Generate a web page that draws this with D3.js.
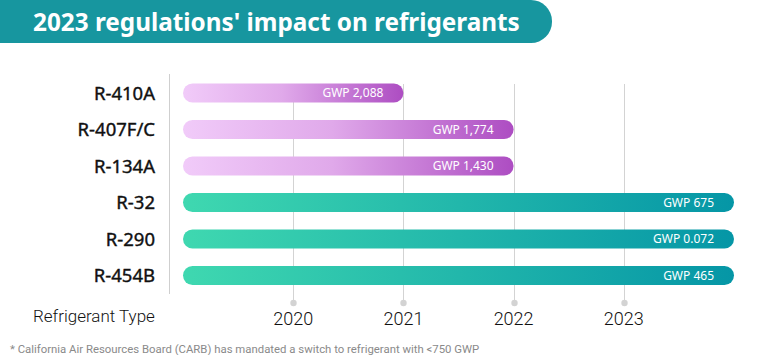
<!DOCTYPE html>
<html><head><meta charset="utf-8">
<script src="https://cdn.jsdelivr.net/npm/d3@7"></script>
<style>
html,body{margin:0;padding:0;background:#fff;}
svg{display:block;}
</style></head>
<body>
<svg id="chart" width="768" height="355"></svg>
<script>
const title = "2023 regulations' impact on refrigerants";
const categories = ["R-410A","R-407F/C","R-134A","R-32","R-290","R-454B"];
const gwpLabels = ["GWP 2,088","GWP 1,774","GWP 1,430","GWP 675","GWP 0.072","GWP 465"];
const startYears = [2019,2019,2019,2019,2019,2019];
const endYears = [2021,2022,2022,2024,2024,2024];
const groups = ["high","high","high","low","low","low"];
const tickYears = [2020,2021,2022,2023];
const axisTitle = "Refrigerant Type";
const footnote = "* California Air Resources Board (CARB) has mandated a switch to refrigerant with <750 GWP";

const svg = d3.select("#chart");
const x = d3.scaleLinear().domain([2019,2024]).range([183,734]);
const y = d3.scalePoint().domain(categories).range([93,275.5]);
const barH = 19;

const defs = svg.append("defs");
const gHigh = defs.append("linearGradient").attr("id","gHigh").attr("x1","0").attr("x2","1").attr("y1","0").attr("y2","0");
gHigh.append("stop").attr("offset","0").attr("stop-color","#f1cbf9");
gHigh.append("stop").attr("offset","0.45").attr("stop-color","#e0a9ea");
gHigh.append("stop").attr("offset","1").attr("stop-color","#ad4dc2");
const gLow = defs.append("linearGradient").attr("id","gLow").attr("x1","0").attr("x2","1").attr("y1","0").attr("y2","0");
gLow.append("stop").attr("offset","0").attr("stop-color","#3fd8b0");
gLow.append("stop").attr("offset","1").attr("stop-color","#0596a6");

function fit(sel, w){
  const n = sel.node();
  let fs = parseFloat(sel.attr("font-size"));
  const cur = n.getComputedTextLength();
  if(cur>0){ sel.attr("font-size", fs*w/cur); }
}

// title banner
const bw = 552, bh = 43, br = 21;
svg.append("path")
  .attr("d",`M0,0 H${bw-br} A${br},${br} 0 0 1 ${bw},${br} V${bh-br} A${br},${br} 0 0 1 ${bw-br},${bh} H0 Z`)
  .attr("fill","#17969f");
const t = svg.append("text").attr("x",33).attr("y",31)
  .attr("font-family","'Noto Sans', 'Open Sans', sans-serif").attr("font-weight",700)
  .attr("font-size",24).attr("fill","#fff").text(title);
fit(t, 487);

// axis line
svg.append("line").attr("x1",169.5).attr("x2",169.5).attr("y1",74).attr("y2",294)
  .attr("stroke","#cfcfcf").attr("stroke-width",1);

// gridlines
const grid = svg.append("g");
grid.selectAll("line").data(tickYears).join("line")
  .attr("x1",d=>Math.round(x(d))+0.5).attr("x2",d=>Math.round(x(d))+0.5)
  .attr("y1",84).attr("y2",303).attr("stroke","#d3d3d3").attr("stroke-width",1);
grid.selectAll("circle").data(tickYears).join("circle")
  .attr("cx",d=>Math.round(x(d))+0.5).attr("cy",303).attr("r",3.2).attr("fill","#d3d3d3");
grid.selectAll("text").data(tickYears).join("text")
  .attr("x",d=>x(d)).attr("y",325).attr("text-anchor","middle")
  .attr("font-family","Roboto, sans-serif").attr("font-weight",300)
  .attr("font-size",18).attr("fill","#111").text(d=>d);

// bars
const rows = categories.map((c,i)=>({c, label:gwpLabels[i], s:startYears[i], e:endYears[i], g:groups[i]}));
const bars = svg.append("g");
bars.selectAll("rect").data(rows).join("rect")
  .attr("x",d=>x(d.s)).attr("y",d=>y(d.c)-barH/2)
  .attr("width",d=>x(d.e)-x(d.s)).attr("height",barH)
  .attr("rx",barH/2).attr("ry",barH/2)
  .attr("fill",d=>d.g==="high"?"url(#gHigh)":"url(#gLow)");
bars.selectAll("text.v").data(rows).join("text").attr("class","v")
  .attr("x",d=>x(d.e)-20).attr("y",d=>y(d.c)+4.3).attr("text-anchor","end")
  .attr("font-family","'Noto Sans', sans-serif").attr("font-weight",400)
  .attr("font-size",12).attr("fill","#fff").text(d=>d.label);

// category labels
svg.append("g").selectAll("text").data(categories).join("text")
  .attr("x",155).attr("y",d=>y(d)+6.5).attr("text-anchor","end")
  .attr("font-family","'Noto Sans', sans-serif").attr("font-weight",400)
  .attr("font-size",18.5).attr("fill","#111")
  .attr("stroke","#111").attr("stroke-width",0.4).text(d=>d);

// axis title
const at = svg.append("text").attr("x",33).attr("y",322)
  .attr("font-family","Roboto, sans-serif").attr("font-weight",300)
  .attr("font-size",16).attr("fill","#111").text(axisTitle);
fit(at, 122);

// footnote
const fn = svg.append("text").attr("x",10).attr("y",353)
  .attr("font-family","Roboto, sans-serif").attr("font-weight",400)
  .attr("font-size",11).attr("fill","#8a8a8a").text(footnote);
fit(fn, 470);
</script>
</body></html>
